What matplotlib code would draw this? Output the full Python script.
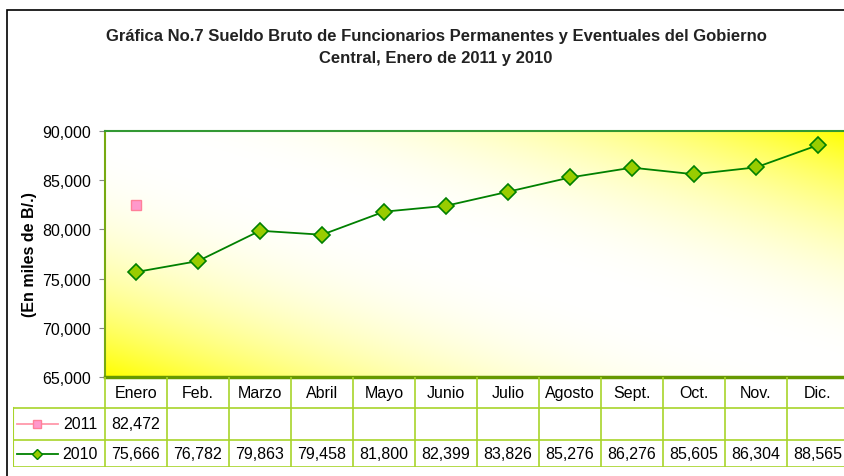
import matplotlib.pyplot as plt
import numpy as np
from matplotlib.patches import Rectangle
from matplotlib.ticker import FuncFormatter

plt.rcParams['font.family'] = ['Liberation Sans', 'DejaVu Sans']

# datos
meses = ['Enero', 'Feb.', 'Marzo', 'Abril', 'Mayo', 'Junio', 'Julio',
         'Agosto', 'Sept.', 'Oct.', 'Nov.', 'Dic.']
serie_2011 = [82472]
serie_2010 = [75666, 76782, 79863, 79458, 81800, 82399, 83826,
              85276, 86276, 85605, 86304, 88565]
anios = ['2011', '2010']

W, H = 845, 477
fig = plt.figure(figsize=(W / 100, H / 100), dpi=100)


def caja(x0, y0, x1, y1):
    # caja en pixeles (origen arriba a la izquierda) -> fraccion de figura
    return [x0 / W, 1 - y1 / H, (x1 - x0) / W, (y1 - y0) / H]


# marco del grafico
fig.patches.append(Rectangle((7 / W, -0.1), 1.2, 1 - 11 / H + 0.1,
                             transform=fig.transFigure, fill=False,
                             edgecolor='black', linewidth=1.2))

fig.text(436 / W, 1 - 37 / H,
         'Gráfica No.7 Sueldo Bruto de Funcionarios Permanentes y Eventuales del Gobierno',
         ha='center', va='center', fontsize=12, fontweight='bold', color='#222222')
fig.text(436 / W, 1 - 59 / H, 'Central, Enero de 2011 y 2010',
         ha='center', va='center', fontsize=12, fontweight='bold', color='#222222')

# area de trazado
ax = fig.add_axes(caja(105, 132, 849, 378))

u = np.linspace(0, 1, 400)
v = np.linspace(0, 1, 200)
U, V = np.meshgrid(u, v)
a = np.abs(U + V - 1) ** 2.2
img = np.ones((200, 400, 3))
img[..., 2] = 1 - a
ax.imshow(img, extent=[0, 1, 0, 1], transform=ax.transAxes, origin='lower',
          aspect='auto', zorder=0)

x = np.arange(len(meses))
ax.plot(x, serie_2010, color='#008000', linewidth=1.3, marker='D', markersize=8,
        markerfacecolor='#99cc00', markeredgecolor='#008000', markeredgewidth=1.2, zorder=3)
ax.plot(x[:len(serie_2011)], serie_2011, color='#ff99aa', linewidth=1.3, marker='s',
        markersize=6.5, markerfacecolor='#ff99cc', markeredgecolor='#ff8099', zorder=3)

ax.set_xlim(-0.5, 11.5)
ax.set_ylim(65000, 90000)
ax.set_yticks(range(65000, 90001, 5000))
ax.yaxis.set_major_formatter(FuncFormatter(lambda val, p: f'{val:,.0f}'))
ax.tick_params(axis='y', labelsize=11.5, length=4, color='#888888', pad=6)
ax.set_xticks([])
ax.spines['left'].set_color('#77aa11')
ax.spines['left'].set_linewidth(1.5)
ax.spines['top'].set_color('#339933')
ax.spines['top'].set_linewidth(1.5)
ax.spines['bottom'].set_color('#669900')
ax.spines['bottom'].set_linewidth(2.5)
ax.spines['right'].set_visible(False)
ax.set_ylabel('(En miles de B/.)', fontsize=11.5, fontweight='bold', labelpad=4)

# tabla de datos
tax = fig.add_axes(caja(13, 378, 849, 468))
xmin = -0.5 - 92 / 62
tax.set_xlim(xmin, 11.5)
tax.set_ylim(90, 0)
tax.axis('off')


def xp(p):
    # pixel de la columna de etiquetas -> coordenada de la tabla
    return -0.5 - (105 - p) / 62


verde = '#a8d42a'
filas = [0, 31, 63, 90]
for k in range(13):
    tax.plot([k - 0.5, k - 0.5], [0, 90], color=verde, linewidth=1.2)
tax.plot([xmin, xmin], [31, 90], color=verde, linewidth=1.5)
for yy in filas[1:]:
    tax.plot([xmin, 11.5], [yy, yy], color=verde, linewidth=1.2)

for i, m in enumerate(meses):
    tax.text(i, 15.5, m, ha='center', va='center', fontsize=11.5)
for i, val in enumerate(serie_2011):
    tax.text(i, 47, f'{val:,}', ha='center', va='center', fontsize=11.5)
for i, val in enumerate(serie_2010):
    tax.text(i, 77, f'{val:,}', ha='center', va='center', fontsize=11.5)

estilos = [dict(color='#ff99aa', marker='s', markersize=6, markerfacecolor='#ff99cc',
                markeredgecolor='#ff8099'),
           dict(color='#008000', marker='D', markersize=5, markerfacecolor='#99cc00',
                markeredgecolor='#008000')]
for anio, yy, est in zip(anios, [47, 77], estilos):
    tax.plot([xp(17), xp(58)], [yy, yy], linewidth=1.3, **est, markevery=[])
    tax.plot([xp(37)], [yy], linestyle='none', **{k: v for k, v in est.items() if k != 'color'})
    tax.text(xp(80), yy, anio, ha='center', va='center', fontsize=11.5)

fig.savefig('out.png', dpi=100)
